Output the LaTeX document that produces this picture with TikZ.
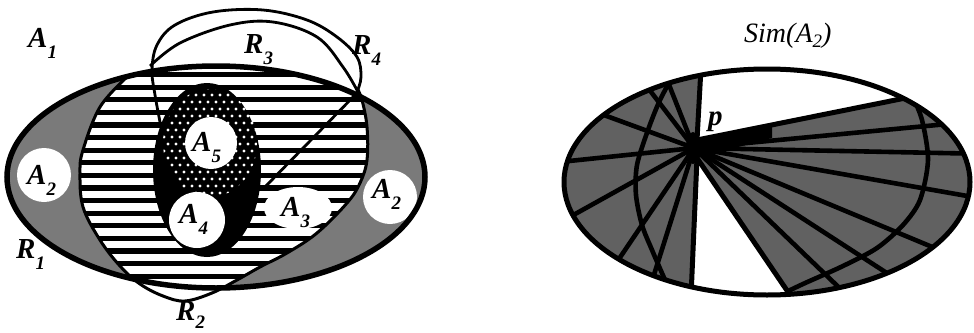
\documentclass[tikz,border=0pt]{standalone}
\usepackage{fontspec}
\setmainfont{Liberation Serif}
\newcommand\labsub[1]{\raisebox{-11pt}{\fontsize{19}{19}\selectfont #1}}
\begin{document}
\begin{tikzpicture}[x=1pt,y=-1pt,
  lab/.style={font=\fontsize{29}{29}\selectfont\bfseries\itshape, inner sep=0pt, anchor=base west},
  thinline/.style={line width=2.8pt},
  bord/.style={line width=5.5pt},
  ray/.style={line width=4.6pt},
  grayL/.style={fill=black!52},
  grayR/.style={fill=black!62},
]
\useasboundingbox (0,0) rectangle (974,332);
\fill[white] (0,0) rectangle (974,332);

% ---------------- left figure ----------------
\fill[grayL] (216,177) ellipse [x radius=209pt, y radius=111pt];
\begin{scope}
  \clip (216,177) ellipse [x radius=209pt, y radius=111pt];
  \clip plot[smooth, tension=0.6] coordinates {(127,77) (100,107) (83,150) (80,173) (83,207) (100,240) (120,266) (140,284) (163,296) (185,301) (212,293) (237,280) (260,267) (287,253) (317,233) (347,203) (360,183) (367,160) (367,127) (362,100) (357,88)} -- (357,30) -- (127,30) -- cycle;
  \fill[white] (60,40) rectangle (400,310);
  \foreach \y in {62,74.6,...,300} \fill (60,\y-2.6) rectangle (400,\y+2.6);
\end{scope}
% white blobs
\fill[white] (44,175) circle [radius=27pt];
\fill[white] (390,197) circle [radius=27pt];
\fill[white] (298,208) ellipse [x radius=34pt, y radius=21pt];
% central oval
\fill (207,170) ellipse [x radius=54pt, y radius=87pt];
\begin{scope}
  \clip (210,143) ellipse [x radius=47pt, y radius=54pt];
  \foreach \i in {0,...,13} \foreach \j in {0,...,16}
    \fill[white] ({160+8*\i+4*mod(\j,2)},{88+7*\j}) circle [radius=1.7pt];
\end{scope}
\fill[white] (211,143) circle [radius=26pt];
\fill[white] (197,220) circle [radius=28pt];
% outlines
\draw[bord] (216,177) ellipse [x radius=209pt, y radius=111pt];
\draw[line width=3pt] plot[smooth, tension=0.6] coordinates {(127,77) (100,107) (83,150) (80,173) (83,207) (100,240) (120,266) (140,284) (163,296) (185,301) (212,293) (237,280) (260,267) (287,253) (317,233) (347,203) (360,183) (367,160) (367,127) (362,100) (357,88)};
\draw[thinline] plot[smooth, tension=0.6] coordinates {(161,127) (155,95) (152,70) (157,45) (175,25) (213,12) (263,10) (307,20) (337,37) (357,57) (361,77) (357,92)};
\draw[thinline] plot[smooth, tension=0.6] coordinates {(150,66) (180,43) (230,25) (273,22) (317,37) (343,67) (358,92)};
\coordinate (dA) at (358,92);
\coordinate (dB) at (262,190);
\draw[thinline] (dA) -- (dB);
% labels
\node[lab] (a1) at (28,47) {A\labsub{1}};
\node[lab] (a2l) at (27,184) {A\labsub{2}};
\node[lab] (a2r) at (372,198) {A\labsub{2}};
\node[lab] (a3) at (281,216) {A\labsub{3}};
\node[lab] (a4) at (179,223) {A\labsub{4}};
\node[lab] (a5) at (192,151) {A\labsub{5}};
\node[lab] (r1) at (16,258) {R\labsub{1}};
\node[lab] (r2) at (176,320) {R\raisebox{-8pt}{\fontsize{19}{19}\selectfont 2}};
\node[lab] (r3) at (244,53) {R\labsub{3}};
\node[lab] (r4) at (352,54) {R\labsub{4}};

% ---------------- right figure ----------------
\coordinate (P) at (694,148);
\fill[grayR] (767,182) ellipse [x radius=203pt, y radius=113pt];
\begin{scope}
  \clip (767,182) ellipse [x radius=203pt, y radius=113pt];
  \foreach \t in {(990,120),(990,154),(990,200),(990,271),(950,314),(880,327),
                  (660,62),(625,58),(560,99),(550,163),(550,228),(600,287),(646,300)}
    \draw[ray] (P) -- \t;
  \draw[ray] plot[smooth] coordinates {(912,95) (922,120) (928,160) (920,200) (903,225) (877,248) (843,266) (803,284) (780,295)};
  \draw[ray] plot[smooth] coordinates {(675,72) (660,100) (648,130) (637,165) (636,195) (642,225) (652,250) (665,280)};
  \fill (694,138) -- (772,125) -- (772,138) -- (697,158) -- cycle;
  \fill (693,148) ellipse [x radius=7pt, y radius=16pt];
  \fill[white] (698,140) -- (702,40) -- (1000,40) -- (1000,79) -- cycle;
  \fill[white] (697,158) -- (690,320) -- (807,320) -- cycle;
  \draw[line width=5pt] (697,140) -- (702,50);
  \draw[line width=5pt] (697,140) -- (1000,79);
  \draw[line width=5pt] (697,158) -- (690,320);
  \draw[line width=5pt] (697,158) -- (807,320);
\end{scope}
\draw[line width=5pt] (767,182) ellipse [x radius=203pt, y radius=113pt];
\node[lab] (p) at (708,125) {p};
\node[font=\fontsize{28}{28}\selectfont\itshape, inner sep=0pt, anchor=base west] (sim) at (744,42) {Sim(A\raisebox{-5pt}{\fontsize{19}{19}\selectfont 2})};
\end{tikzpicture}
\end{document}
